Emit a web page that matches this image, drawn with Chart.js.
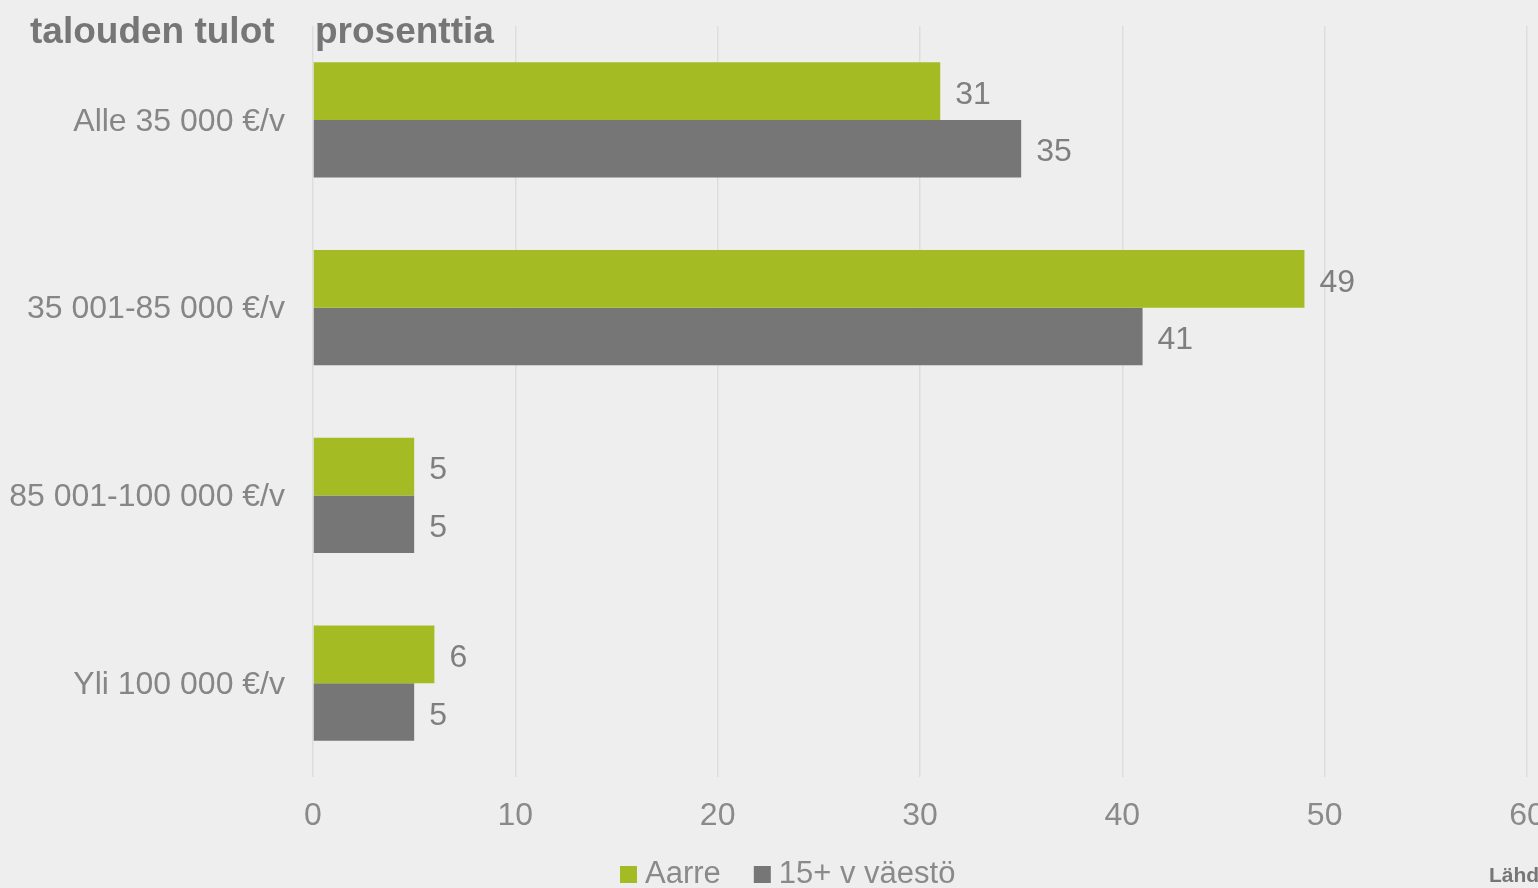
<!DOCTYPE html>
<html>
<head>
<meta charset="utf-8">
<script src="https://cdn.jsdelivr.net/npm/chart.js@4"></script>
<style>
  body { margin: 0; background: #eeeeee; overflow: hidden; }
  #wrap { width: 1538px; height: 888px; }
</style>
</head>
<body>
<div id="wrap"><canvas id="incomeChart" width="1538" height="888"></canvas></div>
<script>
// categories and values
const categories = ['Alle 35 000 €/v', '35 001-85 000 €/v', '85 001-100 000 €/v', 'Yli 100 000 €/v'];
const aarre = [31, 49, 5, 6];
const vaesto = [35, 41, 5, 5];
const xTicks = [0, 10, 20, 30, 40, 50, 60];

const FONT = "Arial, 'Liberation Sans', sans-serif";
const GREEN = '#a4bb23';
const GREY = '#767676';

// value labels at the end of each bar
const valueLabels = {
  id: 'valueLabels',
  afterDatasetsDraw(chart) {
    const ctx = chart.ctx;
    ctx.save();
    ctx.font = '32px ' + FONT;
    ctx.fillStyle = '#7f7f7f';
    ctx.textAlign = 'left';
    ctx.textBaseline = 'middle';
    chart.data.datasets.forEach((ds, i) => {
      chart.getDatasetMeta(i).data.forEach((bar, j) => {
        ctx.fillText(ds.data[j], bar.x + 15, bar.y + 4);
      });
    });
    ctx.restore();
  }
};

// headings, legend and source line
const extras = {
  id: 'extras',
  afterDraw(chart) {
    const ctx = chart.ctx;
    ctx.save();
    ctx.fillStyle = '#767676';
    ctx.font = 'bold 37px ' + FONT;
    ctx.textBaseline = 'alphabetic';
    ctx.textAlign = 'left';
    ctx.fillText('talouden tulot', 30, 43);
    ctx.fillText('prosenttia', 315, 43);

    // legend
    let x = 620;
    ctx.font = '31px ' + FONT;
    chart.data.datasets.forEach(ds => {
      ctx.fillStyle = ds.backgroundColor;
      ctx.fillRect(x, 866, 17, 17);
      ctx.fillStyle = '#8a8a8a';
      ctx.fillText(ds.label, x + 25, 883);
      x += 25 + ctx.measureText(ds.label).width + 33;
    });

    ctx.fillStyle = '#767676';
    ctx.font = 'bold 21px ' + FONT;
    ctx.fillText('Lähde:', 1489, 882);
    ctx.restore();
  }
};

new Chart(document.getElementById('incomeChart'), {
  type: 'bar',
  data: {
    labels: categories,
    datasets: [
      { label: 'Aarre', data: aarre, backgroundColor: GREEN, barPercentage: 1, categoryPercentage: 0.613 },
      { label: '15+ v väestö', data: vaesto, backgroundColor: GREY, barPercentage: 1, categoryPercentage: 0.613 }
    ]
  },
  options: {
    indexAxis: 'y',
    responsive: false,
    animation: false,
    layout: { padding: { top: 26, right: 11, bottom: 0, left: 0 } },
    plugins: {
      legend: { display: false },
      tooltip: { enabled: false }
    },
    scales: {
      x: {
        min: 0,
        max: 60,
        afterBuildTicks: s => { s.ticks = xTicks.map(v => ({ value: v })); },
        afterFit: s => {
          s.height = 111;
          s.paddingLeft = 0;
          s.paddingRight = 0;
        },
        grid: { color: '#dddddd', lineWidth: 1.5, drawTicks: false },
        border: { display: false },
        ticks: { color: '#8a8a8a', font: { family: FONT, size: 32 }, padding: 20 }
      },
      y: {
        afterFit: s => {
          s.width = 313;
          s.paddingTop = 0;
          s.paddingBottom = 0;
        },
        grid: { display: false, drawTicks: false },
        border: { display: false },
        ticks: { color: '#868686', font: { family: FONT, size: 32 }, padding: 28, labelOffset: 2 }
      }
    }
  },
  plugins: [valueLabels, extras]
});
</script>
</body>
</html>
